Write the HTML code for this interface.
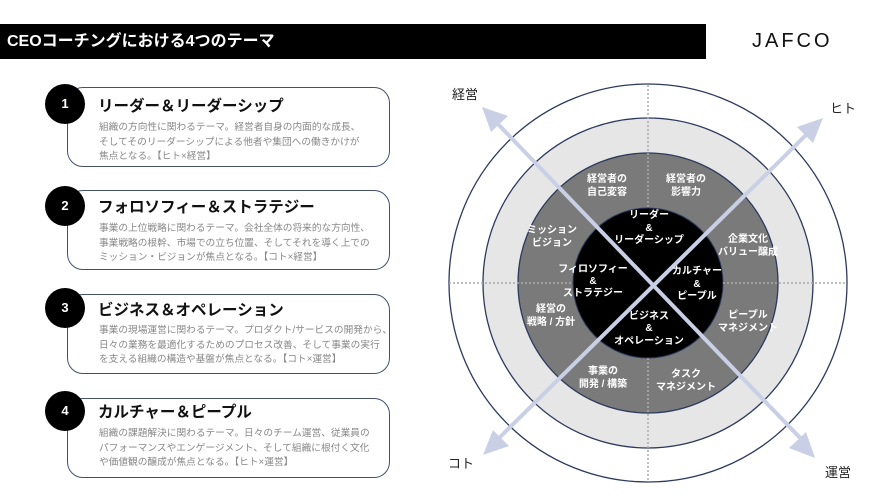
<!DOCTYPE html>
<html><head><meta charset="utf-8"><style>
body{margin:0;width:886px;height:500px;background:#fff;overflow:hidden;position:relative;font-family:"Liberation Sans","Noto Sans CJK JP",sans-serif}
.bar{position:absolute;left:0;top:24px;width:706px;height:35px;background:#000;color:#fff;font-weight:bold;font-size:16px;line-height:35px;padding-left:7px;box-sizing:border-box}
.logo{position:absolute;left:752px;top:30px;font-size:20px;letter-spacing:3px;color:#111}
.box{position:absolute;left:67px;width:323px;height:80px;border:1.3px solid #44506e;border-radius:16px;box-sizing:border-box}
.num{position:absolute;left:45px;width:40px;height:40px;border-radius:50%;background:#000;color:#fff;font-weight:bold;font-size:13px;text-align:center;line-height:40px}
.t{position:absolute;left:98px;font-size:15.5px;font-weight:bold;color:#111}
.d{position:absolute;left:99px;font-size:9.7px;line-height:14.5px;color:#888;white-space:nowrap}
</style></head><body>
<div class="bar">CEOコーチングにおける4つのテーマ</div>
<div class="logo">JAFCO</div>

<div class="box" style="top:87px"></div><div class="num" style="top:84px">1</div>
<div class="t" style="top:94px">リーダー＆リーダーシップ</div>
<div class="d" style="top:121px">組織の方向性に関わるテーマ。経営者自身の内面的な成長、<br>そしてそのリーダーシップによる他者や集団への働きかけが<br>焦点となる。【ヒト×経営】</div>

<div class="box" style="top:190px"></div><div class="num" style="top:186px">2</div>
<div class="t" style="top:195px">フォロソフィー＆ストラテジー</div>
<div class="d" style="top:222px">事業の上位戦略に関わるテーマ。会社全体の将来的な方向性、<br>事業戦略の根幹、市場での立ち位置、そしてそれを導く上での<br>ミッション・ビジョンが焦点となる。【コト×経営】</div>

<div class="box" style="top:294px"></div><div class="num" style="top:288px">3</div>
<div class="t" style="top:298px">ビジネス＆オペレーション</div>
<div class="d" style="top:324px">事業の現場運営に関わるテーマ。プロダクト/サービスの開発から、<br>日々の業務を最適化するためのプロセス改善、そして事業の実行<br>を支える組織の構造や基盤が焦点となる。【コト×運営】</div>

<div class="box" style="top:398px"></div><div class="num" style="top:391px">4</div>
<div class="t" style="top:400px">カルチャー＆ピープル</div>
<div class="d" style="top:427px">組織の課題解決に関わるテーマ。日々のチーム運営、従業員の<br>パフォーマンスやエンゲージメント、そして組織に根付く文化<br>や価値観の醸成が焦点となる。【ヒト×運営】</div>

<svg width="886" height="500" style="position:absolute;left:0;top:0" font-family="Liberation Sans,Noto Sans CJK JP,sans-serif">
<circle cx="648" cy="283" r="199" fill="#fff" stroke="#2d3a5e" stroke-width="1.3"/>
<circle cx="648" cy="283" r="165" fill="#e6e6e6" stroke="#2d3a5e" stroke-width="1.3"/>
<circle cx="648" cy="283" r="130" fill="#7a7a7a" stroke="#2d3a5e" stroke-width="1.3"/>
<circle cx="648" cy="283" r="75" fill="#000" stroke="#2d3a5e" stroke-width="1"/>
<g stroke="#aaa" stroke-width="1.5" stroke-dasharray="2,2">
<line x1="648" y1="85" x2="648" y2="208"/><line x1="648" y1="358" x2="648" y2="482"/>
<line x1="449" y1="283" x2="573" y2="283"/><line x1="723" y1="283" x2="847" y2="283"/>
</g>
<g stroke="#c9d0e6" stroke-width="4">
<line x1="494" y1="120" x2="806" y2="444"/><line x1="810" y1="131" x2="496" y2="441"/>
</g>
<g fill="#c9d0e6">
<polygon points="482,107 508,116 491,132"/>
<polygon points="823,118 813,143 797,127"/>
<polygon points="483,455 493,430 509,446"/>
<polygon points="815,458 789,448 806,432"/>
</g>
<g font-size="13" fill="#222"><text x="452" y="99">経営</text><text x="830" y="113">ヒト</text><text x="448" y="468">コト</text><text x="825" y="477">運営</text></g>
<g font-size="10" fill="#fff" font-weight="bold" text-anchor="middle">
<text x="607" y="182">経営者の</text><text x="607" y="195">自己変容</text>
<text x="686" y="182">経営者の</text><text x="686" y="195">影響力</text>
<text x="552" y="233">ミッション</text><text x="552" y="246">ビジョン</text>
<text x="748" y="242">企業文化</text><text x="748" y="255">バリュー醸成</text>
<text x="551" y="312">経営の</text><text x="551" y="325">戦略 / 方針</text>
<text x="748" y="318">ピープル</text><text x="748" y="331">マネジメント</text>
<text x="603" y="374">事業の</text><text x="603" y="387">開発 / 構築</text>
<text x="686" y="377">タスク</text><text x="686" y="390">マネジメント</text>
<text x="649" y="218">リーダー</text><text x="649" y="231">&amp;</text><text x="649" y="243">リーダーシップ</text>
<text x="593" y="272">フィロソフィー</text><text x="593" y="284">&amp;</text><text x="593" y="296">ストラテジー</text>
<text x="697" y="274">カルチャー</text><text x="697" y="287">&amp;</text><text x="697" y="299">ピープル</text>
<text x="649" y="319">ビジネス</text><text x="649" y="331">&amp;</text><text x="649" y="344">オペレーション</text>
</g>
</svg>
</body></html>
